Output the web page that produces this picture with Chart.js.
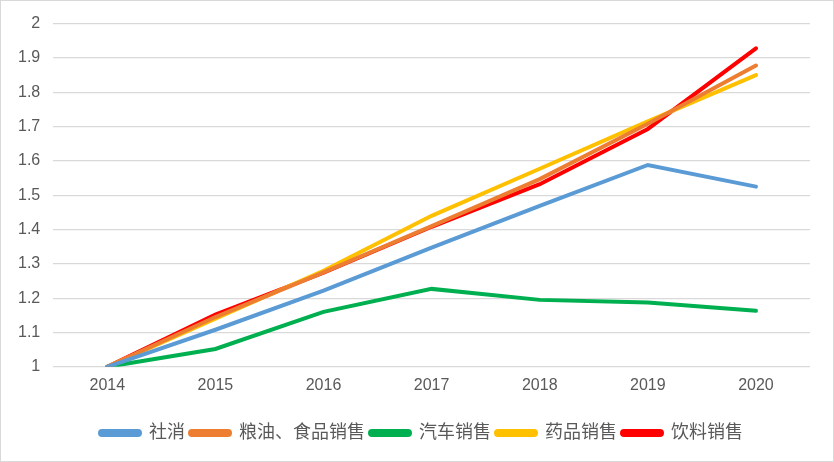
<!DOCTYPE html>
<html>
<head>
<meta charset="utf-8">
<script src="https://cdn.jsdelivr.net/npm/chart.js@4/dist/chart.umd.min.js"></script>
<style>
  html, body { margin: 0; padding: 0; background: #fff; }
  #wrap { position: relative; width: 832px; height: 460px; border: 1px solid #d9d9d9; }
</style>
</head>
<body>
<div id="wrap"><canvas id="myChart"></canvas></div>
<script>
// years on the x axis
let years = ['2014', '2015', '2016', '2017', '2018', '2019', '2020'];

// index values, 2014 = 1
let sheXiao   = [1, 1.108, 1.222, 1.347, 1.469, 1.588, 1.525];
let liangYou  = [1, 1.145, 1.275, 1.41, 1.547, 1.708, 1.878];
let qiChe     = [1, 1.052, 1.160, 1.227, 1.195, 1.187, 1.163];
let yaoPin    = [1, 1.14, 1.28, 1.44, 1.577, 1.715, 1.85];
let yinLiao   = [1, 1.152, 1.274, 1.408, 1.532, 1.693, 1.928];

let names  = ['社消', '粮油、食品销售', '汽车销售', '药品销售', '饮料销售'];
let colors = ['#5b9bd5', '#ed7d31', '#00b050', '#ffc000', '#ff0000'];

let fontFamily = '"Liberation Sans", "Noto Sans CJK SC", sans-serif';

function makeSet(i, values) {
  return {
    label: names[i],
    data: values,
    borderColor: colors[i],
    backgroundColor: colors[i],
    borderWidth: 4,
    pointRadius: 0,
    tension: 0,
    borderCapStyle: 'round'
  };
}

// nudge the legend a little to the right, as in the original
let legendShift = {
  id: 'legendShift',
  afterLayout: function(chart) {
    chart.legend.left += 14;
    chart.legend.right += 14;
  }
};

var ctx = document.getElementById('myChart').getContext('2d');

var chart = new Chart(ctx, {
  type: 'line',
  data: {
    labels: years,
    datasets: [
      makeSet(0, sheXiao),
      makeSet(1, liangYou),
      makeSet(2, qiChe),
      makeSet(3, yaoPin),
      makeSet(4, yinLiao)
    ]
  },
  plugins: [legendShift],
  options: {
    responsive: true,
    maintainAspectRatio: false,
    animation: false,
    layout: { padding: { top: 18, right: 23, left: 4, bottom: 9 } },
    plugins: {
      legend: {
        position: 'bottom',
        labels: {
          color: '#595959',
          font: { family: fontFamily, size: 18 },
          boxWidth: 40,
          boxHeight: 4,
          padding: 5,
          useBorderRadius: true,
          borderRadius: 2
        }
      },
      tooltip: { enabled: false }
    },
    scales: {
      x: {
        offset: true,
        grid: { display: false, drawTicks: false },
        border: { display: false },
        ticks: { color: '#595959', font: { family: fontFamily, size: 16 }, padding: 9 },
        // empty title only used to open space above the legend
        title: { display: true, text: ' ', color: 'rgba(0,0,0,0)', font: { size: 10, lineHeight: 1 }, padding: { top: 0, bottom: 5 } }
      },
      y: {
        min: 1,
        max: 2,
        ticks: {
          stepSize: 0.1,
          color: '#595959',
          font: { family: fontFamily, size: 16 },
          padding: 13,
          callback: function(value) { return String(Math.round(value * 10) / 10); }
        },
        grid: { color: '#d9d9d9', lineWidth: 1.3, drawTicks: false },
        border: { display: false }
      }
    }
  }
});
</script>
</body>
</html>
